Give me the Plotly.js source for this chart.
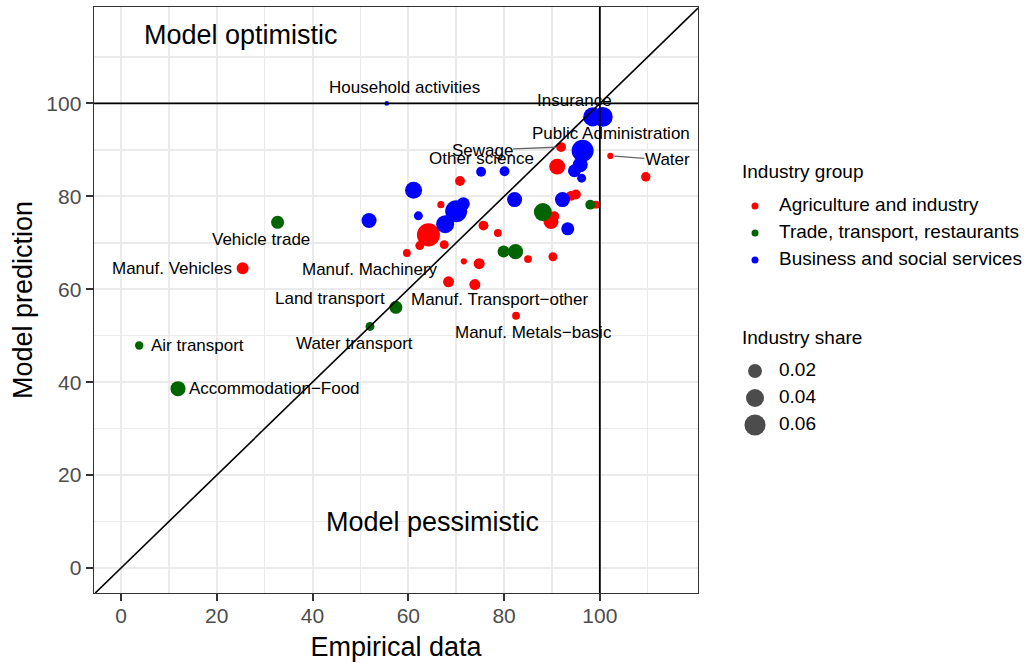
<!DOCTYPE html>
<html><head><meta charset="utf-8">
<script src="https://cdn.plot.ly/plotly-3.0.1.min.js"></script>
<style>html,body{margin:0;padding:0;background:#fff}</style>
</head><body><div id="chart" style="width:1024px;height:663px"></div>
<script>
// ---- data ----
const groupNames = ["Agriculture and industry", "Trade, transport, restaurants", "Business and social services"];

const agriX = [91.9, 91.1, 102.2, 109.6, 70.8, 66.8, 94.0, 95.0, 99.2, 89.8, 90.5, 64.2, 62.4, 59.7, 67.5, 75.7, 78.7, 71.6, 74.8, 85.0, 90.2, 68.4, 73.9, 82.5, 25.4];
const agriY = [90.6, 86.4, 88.7, 84.2, 83.3, 78.2, 80.1, 80.4, 78.2, 74.6, 75.7, 71.7, 69.4, 67.8, 69.6, 73.7, 72.1, 66.0, 65.5, 66.5, 67.0, 61.6, 61.0, 54.3, 64.5];
const agriShare = [0.007, 0.029, 0.001, 0.006, 0.007, 0.002, 0.007, 0.007, 0.003, 0.025, 0.007, 0.074, 0.005, 0.003, 0.005, 0.007, 0.003, 0.001, 0.010, 0.003, 0.005, 0.010, 0.010, 0.003, 0.013];
const agriLabel = ["Sewage", "", "Water", "", "", "", "", "", "", "", "", "", "", "Manuf. Machinery", "", "", "", "", "", "", "", "", "Manuf. Transport\u2212other", "Manuf. Metals\u2212basic", "Manuf. Vehicles"];

const tradeX = [32.7, 3.8, 11.9, 57.4, 52.0, 88.1, 79.9, 82.4, 98.0];
const tradeY = [74.4, 47.9, 38.6, 56.1, 52.0, 76.6, 68.1, 68.1, 78.2];
const tradeShare = [0.0165, 0.004, 0.025, 0.0165, 0.005, 0.040, 0.013, 0.025, 0.007];
const tradeLabel = ["Vehicle trade", "Air transport", "Accommodation\u2212Food", "Land transport", "Water transport", "", "", "", ""];

const busX = [55.5, 98.5, 100.6, 96.4, 95.9, 94.7, 96.2, 75.2, 80.1, 61.1, 82.2, 92.2, 93.3, 62.1, 71.5, 70.0, 67.7, 51.8];
const busY = [100.0, 97.1, 97.1, 89.8, 86.8, 85.5, 83.9, 85.3, 85.4, 81.3, 79.3, 79.3, 73.0, 75.8, 78.4, 76.8, 74.0, 74.8];
const busShare = [0.0001, 0.046, 0.052, 0.066, 0.025, 0.0165, 0.005, 0.007, 0.007, 0.0345, 0.025, 0.025, 0.0165, 0.005, 0.0165, 0.066, 0.040, 0.025];
const busLabel = ["Household activities", "Insurance", "", "Public Administration", "", "", "", "Other science", "", "", "", "", "", "", "", "", "", ""];

const shareBreaks = [0.02, 0.04, 0.06];
const refValue = 100;
const xTicks = [0, 20, 40, 60, 80, 100];
const yTicks = [0, 20, 40, 60, 80, 100];
const minorTicks = [10, 30, 50, 70, 90, 110];

// ---- styling ----
const colors = ["#ff0000", "#006400", "#0000ff"];
const FONT = "Liberation Sans, Arial, Helvetica, sans-serif";
const xRange = [-5.64, 120.5];
const yRange = [-5.38, 120.75];
function sizeOf(s) { return 4 + 70 * Math.sqrt(s); }

// label offsets in pixels (dx right, dy up), or arrow offsets
const labelStyle = {
  "Sewage": {arrow: true, ax: -79, ay: 3, standoff: 5},
  "Water": {arrow: true, ax: 57, ay: 4, standoff: 4},
  "Household activities": {dx: 18, dy: 16},
  "Insurance": {dx: -18, dy: 16},
  "Public Administration": {dx: 28, dy: 17},
  "Other science": {dx: 0, dy: 13},
  "Vehicle trade": {dx: -17, dy: -17},
  "Manuf. Vehicles": {dx: -71, dy: 0},
  "Manuf. Machinery": {dx: -37, dy: -16},
  "Land transport": {dx: -66, dy: 9},
  "Manuf. Transport\u2212other": {dx: 25, dy: -15},
  "Water transport": {dx: -16, dy: -17},
  "Manuf. Metals\u2212basic": {dx: 17, dy: -17},
  "Air transport": {dx: 58, dy: 0},
  "Accommodation\u2212Food": {dx: 97, dy: 0}
};

const sets = [
  {x: agriX, y: agriY, s: agriShare, l: agriLabel},
  {x: tradeX, y: tradeY, s: tradeShare, l: tradeLabel},
  {x: busX, y: busY, s: busShare, l: busLabel}
];

const traces = [];
const annotations = [];
sets.forEach((d, g) => {
  traces.push({
    type: "scatter", mode: "markers", x: d.x, y: d.y, name: groupNames[g],
    marker: {color: colors[g], size: d.s.map(sizeOf), line: {width: 0}, opacity: 1},
    showlegend: false, hoverinfo: "skip", cliponaxis: true
  });
  d.l.forEach((lab, i) => {
    if (!lab) return;
    const st = labelStyle[lab] || {dx: 0, dy: 12};
    const a = {x: d.x[i], y: d.y[i], xref: "x", yref: "y", text: lab,
      font: {family: FONT, size: 17, color: "#000"}};
    if (st.arrow) {
      Object.assign(a, {showarrow: true, arrowhead: 0, arrowwidth: 1.3, arrowcolor: "#666666",
        ax: st.ax, ay: st.ay, standoff: st.standoff, borderpad: 0});
    } else {
      Object.assign(a, {showarrow: false, xshift: st.dx, yshift: st.dy, xanchor: "center", yanchor: "middle"});
    }
    annotations.push(a);
  });
});

// ---- legends, drawn on a hidden helper axis whose units are pixels ----
const legFont = {family: FONT, size: 19, color: "#000"};
const groupRows = [206, 233, 260];
const sizeRows = [371, 398, 425];
traces.push({type: "scatter", mode: "text", xaxis: "x2", yaxis: "y2",
  x: [2, 2], y: [173, 339], text: ["Industry group", "Industry share"], textposition: "middle right",
  textfont: legFont, showlegend: false, hoverinfo: "skip", cliponaxis: false});
groupNames.forEach((n, g) => {
  traces.push({type: "scatter", mode: "markers", xaxis: "x2", yaxis: "y2",
    x: [15], y: [groupRows[g]], marker: {color: colors[g], size: 7, line: {width: 0}},
    showlegend: false, hoverinfo: "skip", cliponaxis: false});
});
traces.push({type: "scatter", mode: "text", xaxis: "x2", yaxis: "y2",
  x: groupNames.map(() => 39), y: groupRows, text: groupNames, textposition: "middle right",
  textfont: legFont, showlegend: false, hoverinfo: "skip", cliponaxis: false});
traces.push({type: "scatter", mode: "markers", xaxis: "x2", yaxis: "y2",
  x: shareBreaks.map(() => 15), y: sizeRows,
  marker: {color: "#000", size: shareBreaks.map(sizeOf), line: {width: 0}},
  showlegend: false, hoverinfo: "skip", cliponaxis: false});
traces.push({type: "scatter", mode: "text", xaxis: "x2", yaxis: "y2",
  x: shareBreaks.map(() => 39), y: sizeRows,
  text: shareBreaks.map(v => v.toFixed(2)), textposition: "middle right",
  textfont: legFont, showlegend: false, hoverinfo: "skip", cliponaxis: false});

// region annotations
annotations.push({x: 25, y: 114.8, xref: "x", yref: "y", text: "Model optimistic", showarrow: false,
  font: {family: FONT, size: 27, color: "#000"}});
annotations.push({x: 65, y: 10.0, xref: "x", yref: "y", text: "Model pessimistic", showarrow: false,
  font: {family: FONT, size: 27, color: "#000"}});

const lo = Math.max(xRange[0], yRange[0]);
const hi = Math.min(xRange[1], yRange[1]);
const shapes = [
  {type: "line", xref: "paper", yref: "y", x0: 0, x1: 604 / 926, y0: refValue, y1: refValue, line: {color: "#000", width: 1.8}, layer: "above"},
  {type: "line", xref: "x", yref: "paper", x0: refValue, x1: refValue, y0: 0, y1: 1, line: {color: "#000", width: 1.8}, layer: "above"},
  {type: "line", xref: "x", yref: "y", x0: lo, y0: lo, x1: hi, y1: hi, line: {color: "#000", width: 1.6}, layer: "above"}
];

const axisCommon = {
  showgrid: true, gridcolor: "#ebebeb", gridwidth: 2, zeroline: false,
  showline: true, mirror: true, linecolor: "#333333", linewidth: 1.4,
  ticks: "outside", ticklen: 7, tickwidth: 2, tickcolor: "#333333",
  tickfont: {family: FONT, size: 21, color: "#4d4d4d"},
  tickmode: "array",
  minor: {tickmode: "array", tickvals: minorTicks, showgrid: true, gridcolor: "#ebebeb", gridwidth: 1.5, ticks: ""},
  fixedrange: true
};

const layout = {
  width: 1024, height: 663,
  margin: {l: 94, r: 4, t: 7, b: 70, pad: 0},
  paper_bgcolor: "#fff", plot_bgcolor: "#fff",
  font: {family: FONT, color: "#000"},
  showlegend: false,
  xaxis: Object.assign({}, axisCommon, {
    domain: [0, 604 / 926], range: xRange, tickvals: xTicks, ticklabelstandoff: -4,
    title: {text: "Empirical data", font: {family: FONT, size: 27, color: "#000"}, standoff: 11}
  }),
  yaxis: Object.assign({}, axisCommon, {
    range: yRange, tickvals: yTicks,
    title: {text: "Model prediction", font: {family: FONT, size: 27, color: "#000"}, standoff: 6}
  }),
  xaxis2: {domain: [646 / 926, 1], range: [0, 280], visible: false, fixedrange: true, anchor: "y2"},
  yaxis2: {domain: [(593 - 460) / 586, (593 - 150) / 586], range: [460, 150], visible: false, fixedrange: true, anchor: "x2"},
  shapes: shapes,
  annotations: annotations
};

Plotly.newPlot("chart", traces, layout, {staticPlot: true, displayModeBar: false});
</script>
</body></html>
